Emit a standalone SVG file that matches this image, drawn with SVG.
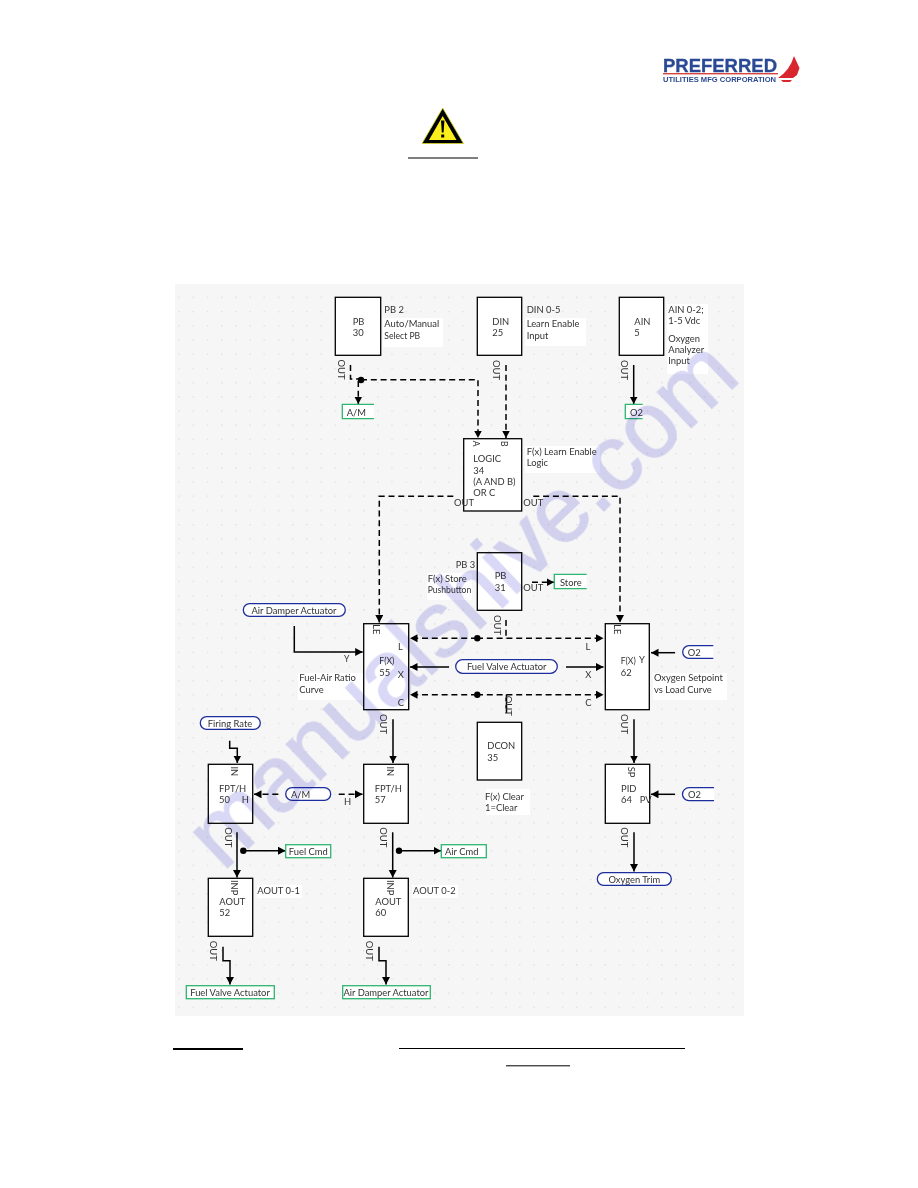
<svg xmlns="http://www.w3.org/2000/svg" width="918" height="1188" viewBox="0 0 918 1188">
<style>
text{font-family:"Lato","Open Sans","Liberation Sans",sans-serif;font-size:9.4px;fill:#333}
.m{text-anchor:middle}
.s{font-size:8.6px}
.b{fill:#fff;stroke:#000;stroke-width:1.3}
.w{fill:#fff}
.c{fill:none;stroke:#000;stroke-width:1.5}
.d{stroke-dasharray:6 3.8}
.a{marker-end:url(#ah)}
.g{fill:#fff;stroke:#2fb56f;stroke-width:1.3}
.p{fill:#fff;stroke:#1f2e9e;stroke-width:1.3}
.wm{font-family:"Liberation Sans",sans-serif;font-size:92px;fill:#d9d9f7;stroke:#d9d9f7;stroke-width:1.5;mix-blend-mode:multiply}
</style>
<defs>
<marker id="ah" markerUnits="userSpaceOnUse" markerWidth="9" markerHeight="9" refX="7.5" refY="4" orient="auto"><path d="M0,0L7.5,4L0,8Z" fill="#000"/></marker>
<pattern id="dots" patternUnits="userSpaceOnUse" x="178.4" y="296.7" width="14.2" height="14.2"><rect width="1.3" height="1.3" fill="#dcdcdc"/></pattern>
<filter id="soft" x="0" y="0" width="100%" height="100%"><feGaussianBlur stdDeviation="0.3"/></filter>
</defs>
<rect width="918" height="1188" fill="#fff"/>
<g filter="url(#soft)">
<g id="logo">
<text x="663" y="72" textLength="114" lengthAdjust="spacingAndGlyphs" style="font-family:'Liberation Sans',sans-serif;font-weight:bold;font-size:18px;fill:#2a4a94;stroke:#2a4a94;stroke-width:.3">PREFERRED</text>
<rect x="663" y="73" width="115" height="1.4" fill="#d4453f"/>
<text x="663" y="82" textLength="113" lengthAdjust="spacingAndGlyphs" style="font-family:'Liberation Sans',sans-serif;font-weight:bold;font-size:6.6px;fill:#2a4a94">UTILITIES MFG CORPORATION</text>
<path d="M794,56L799.5,68L797,75L793,78L778,78Q790,70 794,56Z" fill="#d9272e"/>
<path d="M781,80L792,80L790,82L783,82Z" fill="#d9272e"/>
</g>
<g id="warning">
<path d="M442.7,108L463.5,143.5L422,143.5Z" fill="#000" stroke="#d8d820" stroke-width=".8"/>
<path d="M442.7,116L456.5,140L429,140Z" fill="#fbee1e"/>
<path d="M441,120.5L444.4,120.5L443.6,132.5L441.8,132.5Z M441.2,134.5H444.2V137.5H441.2Z" fill="#000"/>
</g>
<rect x="408" y="157.5" width="70" height="1" fill="#000"/>
<rect x="175" y="284" width="569" height="732" fill="#f6f6f6"/>
<rect x="175" y="284" width="569" height="732" fill="url(#dots)"/>
<g id="label-backs">
<rect class="w" x="383" y="318" width="60" height="29"/>
<rect class="w" x="525" y="318" width="61" height="28"/>
<rect class="w" x="667" y="304" width="41" height="70"/>
<rect class="w" x="525" y="446" width="75" height="27"/>
<rect class="w" x="427" y="573" width="45" height="27"/>
<rect class="w" x="298" y="673" width="65" height="27"/>
<rect class="w" x="653" y="673" width="74" height="27"/>
<rect class="w" x="486" y="789" width="44" height="26"/>
<rect class="w" x="257" y="885" width="45" height="13"/>
<rect class="w" x="412" y="885" width="46" height="13"/>
</g>
<g id="connectors">
<path class="c d" d="M350.5,365V379H361"/>
<path class="c d a" d="M358.3,381V404"/>
<path class="c d a" d="M361,379.7H478V438"/>
<path class="c d a" d="M506,365V438"/>
<path class="c a" d="M633.7,365V404"/>
<path class="c d a" d="M453.3,496.3H379.3V622.5"/>
<path class="c d a" d="M533.3,496.3H620V622.5"/>
<path class="c d a" d="M532,582.3H554"/>
<path class="c d" d="M506,620V638"/>
<path class="c d a" d="M477,638.3H410"/>
<path class="c d a" d="M477,638.3H603.5"/>
<path class="c a" d="M449,667H410"/>
<path class="c a" d="M566,667H603.5"/>
<path class="c d a" d="M477,694.7H410"/>
<path class="c d a" d="M477,694.7H603.5"/>
<path class="c" d="M506.5,694.7V713"/>
<path class="c a" d="M294.3,626V652H362.7"/>
<path class="c a" d="M675,652.7H651"/>
<path class="c a" d="M393,719.3V763"/>
<path class="c a" d="M634,719.3V763"/>
<path class="c a" d="M229.7,740.7V748.3H237.3V763"/>
<path class="c d a" d="M278.3,794.3H254"/>
<path class="c d a" d="M338.7,794.3H362.5"/>
<path class="c a" d="M675,794.3H651"/>
<path class="c a" d="M237,832.3V877.5"/>
<path class="c a" d="M243.3,850.7H285.5"/>
<path class="c a" d="M392.7,832.3V877.5"/>
<path class="c a" d="M399,850.7H441"/>
<path class="c a" d="M223,946.7V960.7H230V984.5"/>
<path class="c a" d="M379,946.7V960.7H386V984.5"/>
<path class="c a" d="M634,832.3V871.5"/>
<circle cx="361" cy="380" r="3.2"/><circle cx="477.3" cy="638.3" r="3.2"/><circle cx="477.3" cy="694.7" r="3.2"/><circle cx="243.3" cy="850.7" r="3.2"/><circle cx="399" cy="850.7" r="3.2"/>
</g>
<g id="pb30"><rect class="b" x="335.3" y="297.3" width="45.4" height="58"/><text x="352.7" y="325">PB</text><text x="352.7" y="336">30</text></g>
<g id="din25"><rect class="b" x="477.3" y="297.3" width="44.4" height="58"/><text x="492.3" y="325">DIN</text><text x="492.3" y="336">25</text></g>
<g id="ain5"><rect class="b" x="619.3" y="297.3" width="44.4" height="58"/><text x="634.3" y="325">AIN</text><text x="634.3" y="336">5</text></g>
<g id="logic34"><rect class="b" x="463.7" y="438.7" width="58" height="72.3"/><text x="473.3" y="462.3">LOGIC</text><text x="473.3" y="473.7">34</text><text x="473.3" y="485.3">(A AND B)</text><text x="473.3" y="496">OR C</text>
<text class="m s" transform="translate(472.7,443.7) rotate(90)">A</text><text class="m s" transform="translate(501,443.7) rotate(90)">B</text><text x="454" y="506">OUT</text><text x="523.3" y="506">OUT</text></g>
<g id="pb31"><rect class="b" x="477.3" y="552.7" width="44.4" height="57.6"/><text x="494.7" y="579.3">PB</text><text x="494.7" y="591">31</text><text x="523.3" y="590.7">OUT</text></g>
<g id="fx55"><rect class="b" x="363.7" y="623.7" width="45" height="86"/><text x="379.3" y="664" class="s">F(X)</text><text x="379.3" y="675.7">55</text><text class="m" x="400.5" y="649.5">L</text><text class="m" x="400.7" y="678">X</text><text class="m" x="401" y="706">C</text><text class="m" transform="translate(373,629.3) rotate(90)">LE</text></g>
<g id="fx62"><rect class="b" x="605.3" y="623.7" width="44" height="86"/><text x="620.7" y="664" class="s">F(X)</text><text x="620.7" y="675.7">62</text><text class="m" x="642" y="662.5" >Y</text><text class="m" transform="translate(614,629.3) rotate(90)">LE</text></g>
<g id="dcon35"><rect class="b" x="477.3" y="722.3" width="44.4" height="57.7"/><text x="487.3" y="749.3">DCON</text><text x="487.3" y="760.7">35</text></g>
<g id="fpth50"><rect class="b" x="208.3" y="764.3" width="44.4" height="59"/><text x="219" y="792">FPT/H</text><text x="219" y="803">50</text><text class="m" x="245.3" y="803">H</text><text class="m" transform="translate(231,771.3) rotate(90)">IN</text></g>
<g id="fpth57"><rect class="b" x="363.7" y="764.3" width="44.6" height="59"/><text x="374.7" y="792">FPT/H</text><text x="374.7" y="803">57</text><text class="m" transform="translate(387,771.3) rotate(90)">IN</text></g>
<g id="pid64"><rect class="b" x="605.3" y="764.3" width="44.4" height="59"/><text x="621" y="791.7">PID</text><text x="621" y="802.5">64</text><text x="639.7" y="802.5">PV</text><text class="m" transform="translate(628.3,772) rotate(90)">SP</text></g>
<g id="aout52"><rect class="b" x="208.3" y="878.3" width="44.4" height="58"/><text x="219.3" y="905">AOUT</text><text x="219.3" y="916">52</text><text class="m" transform="translate(231.3,887.7) rotate(90)">INP</text></g>
<g id="aout60"><rect class="b" x="363.7" y="878.3" width="44.6" height="58"/><text x="375.3" y="905">AOUT</text><text x="375.3" y="916">60</text><text class="m" transform="translate(387,887.7) rotate(90)">INP</text></g>
<g id="green-tags">
<path class="g" d="M374,404.3H342.3V418.7H374"/><text x="346.7" y="416">A/M</text>
<path class="g" d="M642.7,404.3H625.3V418.7H642.7"/><text x="630" y="416">O2</text>
<path class="g" d="M586.7,574.3H554.3V588.7H586.7"/><text x="560" y="585.7">Store</text>
<rect class="g" x="285.7" y="844.7" width="45" height="13"/><text class="m" x="308.3" y="854.5">Fuel Cmd</text>
<rect class="g" x="441.3" y="844.7" width="45" height="13"/><text class="m" x="461.7" y="854.5">Air Cmd</text>
<rect class="g" x="186.3" y="985.7" width="88" height="13"/><text class="m" x="230" y="996">Fuel Valve Actuator</text>
<rect class="g" x="342.7" y="985.7" width="87.6" height="13"/><text class="m" x="386" y="996">Air Damper Actuator</text>
</g>
<g id="pills">
<rect class="p" x="243.3" y="603.7" width="102" height="12.6" rx="6.3"/><text class="m" x="294" y="613.5">Air Damper Actuator</text>
<rect class="p" x="455.7" y="659.7" width="101.6" height="13.6" rx="6.8"/><text class="m" x="506.7" y="670">Fuel Valve Actuator</text>
<rect class="p" x="200.3" y="716.7" width="60" height="12.6" rx="6.3"/><text class="m" x="230" y="726.5">Firing Rate</text>
<rect class="p" x="285.7" y="787.7" width="45" height="12.6" rx="6.3"/><text x="291" y="797.5">A/M</text>
<rect class="p" x="597.3" y="872.7" width="74" height="12.6" rx="6.3"/><text class="m" x="634.3" y="882.5">Oxygen Trim</text>
<path class="p" d="M713.3,645.7H689A6.3,6.3 0 0 0 689,658.3H713.3"/><text x="687.7" y="656">O2</text>
<path class="p" d="M714,787.7H689A6.5,6.5 0 0 0 689,800.7H714"/><text x="688" y="797.5">O2</text>
</g>
<g id="labels">
<text x="384.3" y="313.3">PB 2</text><text x="384.3" y="327.3">Auto/Manual</text><text x="384.3" y="338.7" class="s">Select PB</text>
<text x="526.7" y="313.3">DIN 0-5</text><text x="526.7" y="327.3">Learn Enable</text><text x="526.7" y="338.7">Input</text>
<text x="668.3" y="313.3">AIN 0-2;</text><text x="668.3" y="324">1-5 Vdc</text><text x="668.3" y="341.7">Oxygen</text><text x="668.3" y="353.3">Analyzer</text><text x="668.3" y="364.3">Input</text>
<text x="526.7" y="455">F(x) Learn Enable</text><text x="526.7" y="466.3">Logic</text>
<text x="455.7" y="567.7">PB 3</text><text x="427.7" y="581.7">F(x) Store</text><text x="427.7" y="593.3" class="s">Pushbutton</text>
<text x="299.3" y="681.3">Fuel-Air Ratio</text><text x="299.3" y="692.7">Curve</text>
<text x="654" y="681.3">Oxygen Setpoint</text><text x="654" y="692.7">vs Load Curve</text>
<text x="485" y="800">F(x) Clear</text><text x="485" y="811">1=Clear</text>
<text x="257.3" y="893.7">AOUT 0-1</text><text x="413" y="893.7">AOUT 0-2</text>
<text class="m s" x="346.7" y="662">Y</text><text class="m" x="588" y="649.5">L</text><text class="m" x="588.3" y="678">X</text><text class="m" x="588.3" y="706">C</text>
<text class="m" x="347.7" y="805">H</text>
<text class="m" transform="translate(338,369.5) rotate(90)">OUT</text>
<text class="m" transform="translate(493,370) rotate(90)">OUT</text>
<text class="m" transform="translate(621.3,370) rotate(90)">OUT</text>
<text class="m" transform="translate(380,724) rotate(90)">OUT</text>
<text class="m" transform="translate(621.3,724) rotate(90)">OUT</text>
<text class="m" transform="translate(493.7,625) rotate(90)">OUT</text>
<text class="m" transform="translate(505,705.7) rotate(90)">OUT</text>
<text class="m" transform="translate(224.7,837.3) rotate(90)">OUT</text>
<text class="m" transform="translate(380.3,837.3) rotate(90)">OUT</text>
<text class="m" transform="translate(621.3,837.3) rotate(90)">OUT</text>
<text class="m" transform="translate(209.7,950.7) rotate(90)">OUT</text>
<text class="m" transform="translate(365.7,950.7) rotate(90)">OUT</text>
</g>
<rect x="173" y="1048" width="70" height="2" fill="#000"/>
<rect x="399" y="1048" width="286" height="1" fill="#000"/>
<rect x="506" y="1065.3" width="64" height="1" fill="#000"/>
<text class="wm" transform="translate(223,872) rotate(-43.5)">manualshive.com</text>
</g>
</svg>
